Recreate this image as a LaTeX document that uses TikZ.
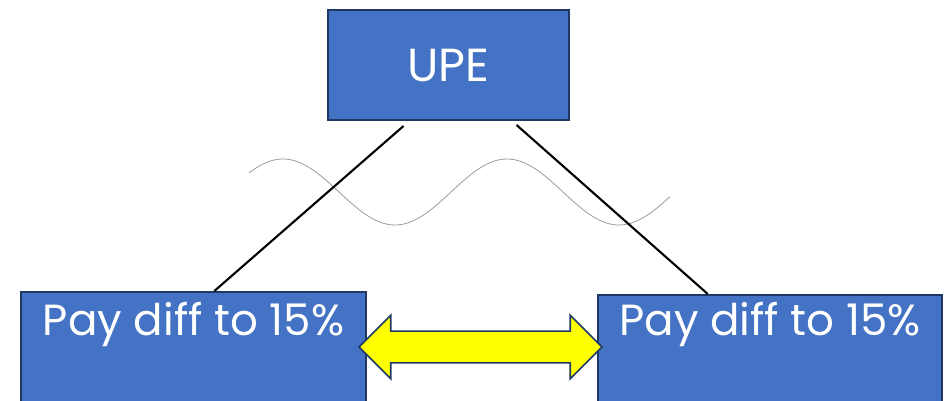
\documentclass[tikz,border=0pt]{standalone}
\usepackage{fontspec}
\setmainfont{Poppins}
\usetikzlibrary{shapes, arrows.meta, calc, positioning, shapes.arrows}

\definecolor{boxblue}{HTML}{4472C4}
\definecolor{boxedge}{HTML}{1F3864}
\definecolor{swapyellow}{HTML}{FFFF00}

\tikzset{
  entity/.style={draw=boxedge, line width=1.4pt, fill=boxblue, text=white,
                 inner sep=0pt, font=\fontsize{31}{36}\selectfont},
  link/.style={black, line width=1.5pt},
}

\begin{document}
\begin{tikzpicture}[x=0.025cm, y=-0.025cm]
\useasboundingbox (0,0) rectangle (944,400);
\clip (0,0) rectangle (944,400);

\node[entity, minimum width=6.025cm, minimum height=2.75cm, font=\fontsize{33}{38}\selectfont] (upe) at (448.5,65) {UPE};
\node[entity, anchor=north west, minimum width=8.625cm, text height=31pt, text depth=80pt] (left) at (20,291) {Pay diff to 15\%};
\node[entity, anchor=north west, minimum width=8.6cm, text height=29pt, text depth=80pt] (right) at (597,294) {Pay diff to 15\%};

% wavy line behind the links
\draw[gray!75, line width=0.6pt] plot[domain=249:670, samples=120, smooth] (\x, {192-33*cos(((\x-283)/224)*360)});

\draw[link] ($(upe.south west)!0.315!(upe.south east)+(0,5)$) -- ($(left.north west)!0.56!(left.north east)$);
\draw[link] ($(upe.south west)!0.78!(upe.south east)+(0,4)$) -- ($(right.north west)!0.32!(right.north east)$);

\node[double arrow, draw=boxedge, line width=1.2pt, fill=swapyellow, inner xsep=0pt, inner ysep=0.375cm,
      minimum height=6.075cm, double arrow head extend=0.4cm] (swap) at (480.5,347) {};
\end{tikzpicture}
\end{document}
